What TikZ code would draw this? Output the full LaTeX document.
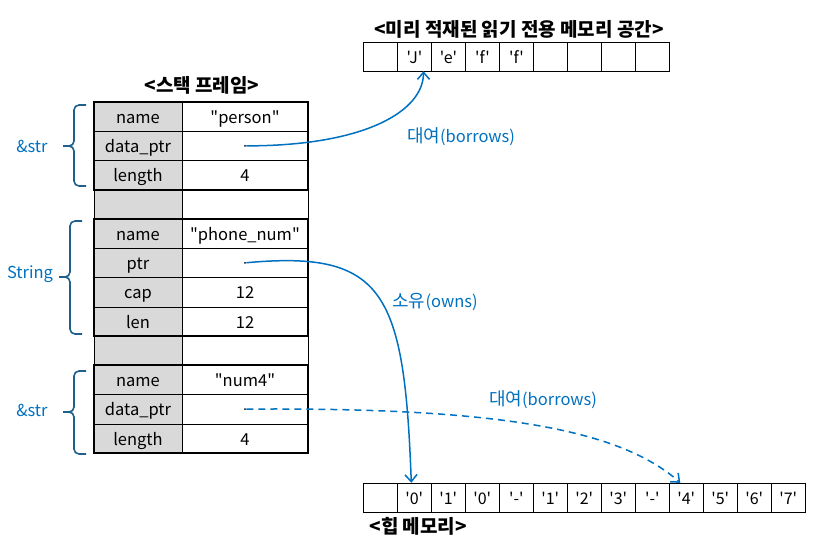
\documentclass[tikz,border=0pt]{standalone}
\usepackage{fontspec}
\newfontfamily\krfont{Noto Sans CJK KR}
\usetikzlibrary{arrows.meta,positioning}
\definecolor{linkblue}{RGB}{0,112,192}
\definecolor{bracecol}{RGB}{31,95,139}
\definecolor{keygray}{RGB}{217,217,217}

\begin{document}
\begin{tikzpicture}[x=1pt,y=-1pt]
	\tikzstyle{Key}		= [rectangle, draw, fill=keygray, minimum width=88pt, minimum height=29.25pt, inner sep=0pt, text height=13.5pt, text depth=0pt, font=\krfont\fontsize{16.5}{19}\selectfont]
	\tikzstyle{Val}		= [Key, fill=white, minimum width=126pt]
	\tikzstyle{Cell}	= [rectangle, draw, fill=white, minimum width=34pt, minimum height=29pt, inner sep=0pt, text height=13pt, text depth=0pt, font=\krfont\fontsize{16}{19}\selectfont]
	\tikzstyle{Group}	= [line width=1.7pt]
	\tikzstyle{Dot}		= [circle, fill=black, minimum size=2.2pt, inner sep=0pt]
	\tikzstyle{Title}	= [font=\krfont\bfseries\fontsize{19}{22}\selectfont]
	\tikzstyle{Tag}		= [text=linkblue, inner sep=0pt, font=\krfont\fontsize{16.5}{19}\selectfont]
	\tikzstyle{Brace}	= [draw=bracecol, line width=1.6pt, rounded corners=5pt]
	\tikzstyle{Link}	= [draw=linkblue, line width=1.5pt, -{Straight Barb[length=7pt,width=12pt]}]
	
	\useasboundingbox (0,0) rectangle (820,546);
	
	% stack frame
	\node (st) at (202,85) [Title] {<스택 프레임>};
	\foreach \r/\k/\v in {1/name/"person", 2/data\_ptr/{}, 3/length/4, 4/{}/{}, 5/name/"phone\_num", 6/ptr/{}, 7/cap/12, 8/len/12, 9/{}/{}, 10/name/"num4", 11/data\_ptr/{}, 12/length/4}
	{
		\node (k\r) at (138, {102+29.25*\r-14.625}) [Key] {\k};
		\node (v\r) at (245, {102+29.25*\r-14.625}) [Val] {\v};
	}
	\foreach \a/\b in {1/3, 5/8, 10/12}
		\draw [Group] (k\a.north west) rectangle (v\b.south east);
	\foreach \r in {2, 6, 11}
		\node (d\r) at (v\r.center) [Dot] {};
	
	% braces
	\foreach \x/\t/\m/\b in {86/105/146/186, 82/221/277/334, 86/371/412/454}
	{
		\draw [Brace] (\x,\t) -- ({\x-12},\t) -- ({\x-12},\m) -- ({\x-23},\m);
		\draw [Brace] (\x,\b) -- ({\x-12},\b) -- ({\x-12},\m) -- ({\x-23},\m);
	}
	\node (l1) at (32,146) [Tag] {\&str};
	\node (l2) at (30,274) [Tag] {String};
	\node (l3) at (32,410) [Tag] {\&str};
	
	% read-only memory
	\node (rt) at (519,29) [Title] {<미리 적재된 읽기 전용 메모리 공간>};
	\foreach \c [count=\i] in {{}, 'J', 'e', 'f', 'f', {}, {}, {}, {}}
		\node (r\i) at ({363.5+34*\i-17}, 56.5) [Cell] {\c};
	
	% heap memory
	\foreach \c [count=\i] in {{}, '0', '1', '0', '-', '1', '2', '3', '-', '4', '5', '6', '7'}
		\node (h\i) at ({363.3+34*\i-17}, 497.5) [Cell] {\c};
	\node (ht) at (366,526) [Title, anchor=west] {<힙 메모리>};
	
	% pointers
	\draw [Link] (d2) .. controls +(120,0) and +(0,40) .. ([xshift=9pt]r2.south);
	\draw [Link] (d6) .. controls +(140,-13) and +(-7,-190) .. ([xshift=-3pt]h2.north);
	\draw [Link, dash pattern=on 7pt off 5pt] (d11) .. controls +(255,-2) and +(-60,-53) .. ([xshift=-6pt]h10.north);
	\node (t1) at (461,137) [Tag] {{\fontsize{18}{20}\selectfont 대여}(borrows)};
	\node (t2) at (435,302) [Tag] {{\fontsize{18}{20}\selectfont 소유}(owns)};
	\node (t3) at (543,400) [Tag] {{\fontsize{18}{20}\selectfont 대여}(borrows)};
\end{tikzpicture}
\end{document}
